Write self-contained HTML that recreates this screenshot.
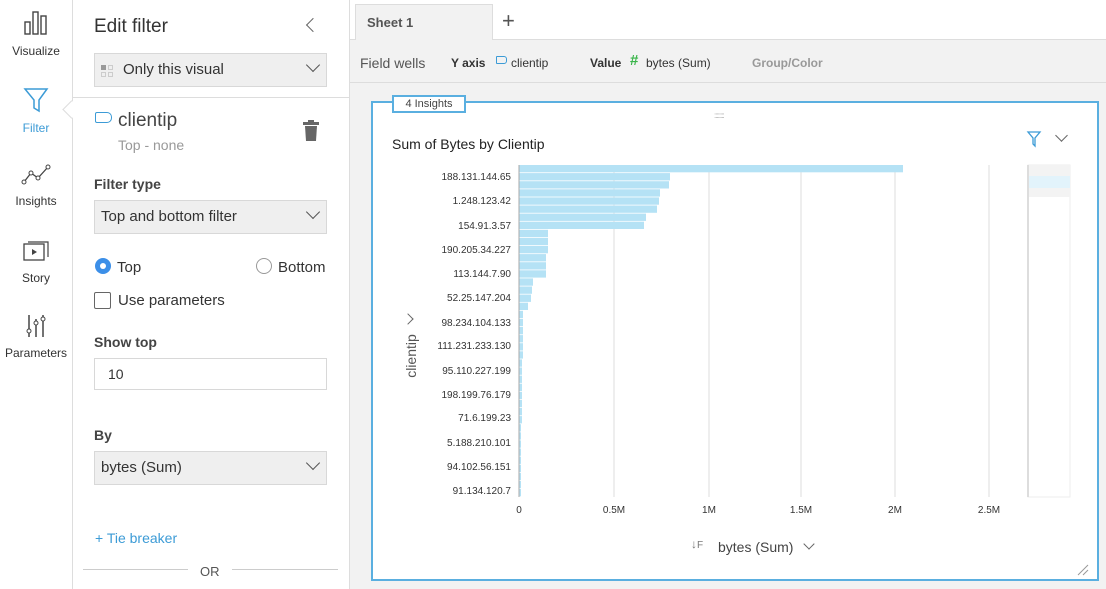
<!DOCTYPE html>
<html><head><meta charset="utf-8"><style>
body{margin:0;width:1106px;height:589px;overflow:hidden;font-family:"Liberation Sans",sans-serif;background:#fff;position:relative;color:#333}
.a{position:absolute}
.sel{position:absolute;left:94px;width:233px;height:34px;background:#efefef;border:1px solid #d8d8d8;box-sizing:border-box;font-size:15px;line-height:32px;padding-left:6px;color:#333}
.chev{position:absolute;right:8px;top:10px;width:9px;height:9px;border-right:1.5px solid #555;border-bottom:1.5px solid #555;transform:rotate(45deg);top:6px}
.nav{position:absolute;left:0;width:72px;text-align:center;font-size:12px;color:#333}
.lbl{position:absolute;right:595px;font-size:10px;color:#333;text-align:right;white-space:nowrap}
.tk{position:absolute;top:505px;font-size:10px;color:#333;transform:translateX(-50%)}
</style></head><body>
<div class="a" style="left:72px;top:0;width:1px;height:589px;background:#ddd"></div>
<div class="nav" style="top:8px"><svg width="26" height="30"><rect x="2" y="14" width="5" height="12" fill="none" stroke="#444" stroke-width="1.4"/><rect x="10" y="4" width="5" height="22" fill="none" stroke="#444" stroke-width="1.4"/><rect x="18" y="8" width="5" height="18" fill="none" stroke="#444" stroke-width="1.4"/></svg><div style="margin-top:3px">Visualize</div></div>
<div class="nav" style="top:86px;color:#3c9bd6"><svg width="26" height="28"><path d="M2 3 H24 L16 14 V25 L11 22 V14 Z" fill="none" stroke="#3c9bd6" stroke-width="1.5"/></svg><div style="margin-top:4px">Filter</div></div>
<div class="nav" style="top:164px"><svg width="30" height="22"><polyline points="3,18 10,9 17,14 27,3" fill="none" stroke="#444" stroke-width="1.3"/><circle cx="3" cy="18" r="2" fill="#fff" stroke="#444"/><circle cx="10" cy="9" r="2" fill="#fff" stroke="#444"/><circle cx="17" cy="14" r="2" fill="#fff" stroke="#444"/><circle cx="27" cy="3" r="2" fill="#fff" stroke="#444"/></svg><div style="margin-top:5px">Insights</div></div>
<div class="nav" style="top:240px"><svg width="28" height="22"><rect x="2" y="4" width="20" height="16" fill="none" stroke="#444" stroke-width="1.3"/><path d="M6 2 H26 V17" fill="none" stroke="#444" stroke-width="1.2"/><path d="M10 9 L15 12 L10 15Z" fill="#444"/></svg><div style="margin-top:6px">Story</div></div>
<div class="nav" style="top:313px"><svg width="26" height="26"><g stroke="#444" stroke-width="1.5"><line x1="6" y1="2" x2="6" y2="24"/><line x1="13" y1="6" x2="13" y2="24"/><line x1="20" y1="2" x2="20" y2="24"/></g><circle cx="6" cy="18" r="2" fill="#fff" stroke="#444"/><circle cx="13" cy="10" r="2" fill="#fff" stroke="#444"/><circle cx="20" cy="6" r="2" fill="#fff" stroke="#444"/></svg><div style="margin-top:4px">Parameters</div></div>
<div class="a" style="left:65px;top:103px;width:12px;height:12px;background:#fff;border-left:1px solid #ddd;border-bottom:1px solid #ddd;transform:rotate(45deg)"></div>
<div class="a" style="left:94px;top:16px;font-size:19px;color:#333">Edit filter</div>
<div class="a" style="left:308px;top:20px;width:9px;height:9px;border-left:1.5px solid #666;border-bottom:1.5px solid #666;transform:rotate(45deg)"></div>
<div class="sel" style="top:53px;padding-left:28px">Only this visual<div class="chev"></div>
<div class="a" style="left:6px;top:11px;width:5px;height:5px;background:#999"></div><div class="a" style="left:13px;top:11px;width:5px;height:5px;border:1px solid #ccc;box-sizing:border-box"></div><div class="a" style="left:6px;top:18px;width:5px;height:5px;border:1px solid #ccc;box-sizing:border-box"></div><div class="a" style="left:13px;top:18px;width:5px;height:5px;border:1px solid #ccc;box-sizing:border-box"></div></div>
<div class="a" style="left:73px;top:97px;width:276px;height:1px;background:#ddd"></div>
<div class="a" style="left:95px;top:112px;width:15px;height:9px;border:1.5px solid #3c9bd6;border-radius:2px 5px 5px 2px"></div>
<div class="a" style="left:118px;top:110px;font-size:19px;color:#444">clientip</div>
<div class="a" style="left:118px;top:137px;font-size:14px;color:#999">Top - none</div>
<svg class="a" style="left:302px;top:120px" width="18" height="22"><rect x="1" y="2" width="16" height="3" fill="#666"/><rect x="6" y="0" width="6" height="3" fill="#666"/><path d="M3 6 H15 L14 21 H4Z" fill="#666"/></svg>
<div class="a" style="left:94px;top:176px;font-size:14px;font-weight:bold;color:#444">Filter type</div>
<div class="sel" style="top:200px">Top and bottom filter<div class="chev"></div></div>
<div class="a" style="left:95px;top:258px;width:16px;height:16px;border-radius:50%;background:#3c8fe8"></div><div class="a" style="left:100px;top:263px;width:6px;height:6px;border-radius:50%;background:#fff"></div>
<div class="a" style="left:117px;top:259px;font-size:15px">Top</div>
<div class="a" style="left:256px;top:258px;width:16px;height:16px;border-radius:50%;border:1px solid #999;box-sizing:border-box"></div>
<div class="a" style="left:278px;top:259px;font-size:15px">Bottom</div>
<div class="a" style="left:94px;top:292px;width:17px;height:17px;border:1px solid #666;border-radius:2px;box-sizing:border-box"></div>
<div class="a" style="left:118px;top:292px;font-size:15px">Use parameters</div>
<div class="a" style="left:94px;top:334px;font-size:14px;font-weight:bold;color:#444">Show top</div>
<div class="a" style="left:94px;top:358px;width:233px;height:32px;border:1px solid #d8d8d8;box-sizing:border-box;font-size:14px;line-height:30px;padding-left:13px">10</div>
<div class="a" style="left:94px;top:427px;font-size:14px;font-weight:bold;color:#444">By</div>
<div class="sel" style="top:451px">bytes (Sum)<div class="chev"></div></div>
<div class="a" style="left:95px;top:530px;font-size:14px;color:#3c9bd6">+ Tie breaker</div>
<div class="a" style="left:83px;top:569px;width:105px;height:1px;background:#ccc"></div>
<div class="a" style="left:232px;top:569px;width:106px;height:1px;background:#ccc"></div>
<div class="a" style="left:200px;top:564px;font-size:13px;color:#555">OR</div>
<div class="a" style="left:349px;top:0;width:1px;height:589px;background:#ddd"></div>
<div class="a" style="left:350px;top:0;width:756px;height:589px;background:#f2f2f2"></div>
<div class="a" style="left:350px;top:0;width:756px;height:39px;background:#fff;border-bottom:1px solid #ddd"></div>
<div class="a" style="left:355px;top:4px;width:138px;height:36px;background:#f2f2f2;border:1px solid #ddd;border-bottom:none;box-sizing:border-box"></div>
<div class="a" style="left:367px;top:15px;font-size:13px;font-weight:bold;color:#555">Sheet 1</div>
<div class="a" style="left:502px;top:8px;font-size:22px;color:#555;font-weight:300">+</div>
<div class="a" style="left:350px;top:82px;width:756px;height:1px;background:#ddd"></div>
<div class="a" style="left:360px;top:55px;font-size:14px;color:#555">Field wells</div>
<div class="a" style="left:451px;top:56px;font-size:12px;font-weight:bold;color:#333">Y axis</div>
<div class="a" style="left:496px;top:56px;width:9px;height:6px;border:1.2px solid #3c9bd6;border-radius:1px 3px 3px 1px"></div>
<div class="a" style="left:511px;top:56px;font-size:12px">clientip</div>
<div class="a" style="left:590px;top:56px;font-size:12px;font-weight:bold;color:#333">Value</div>
<div class="a" style="left:630px;top:52px;font-size:15px;font-weight:bold;color:#3ab54a">#</div>
<div class="a" style="left:646px;top:56px;font-size:12px">bytes (Sum)</div>
<div class="a" style="left:752px;top:56px;font-size:12px;font-weight:bold;color:#999">Group/Color</div>
<div class="a" style="left:371px;top:101px;width:728px;height:480px;background:#fff;border:2px solid #5aafe0;box-sizing:border-box"></div>
<div class="a" style="left:392px;top:95px;width:74px;height:18px;background:#fff;border:2px solid #5aafe0;box-sizing:border-box;font-size:11px;text-align:center;line-height:14px;color:#444">4 Insights</div>
<div class="a" style="left:714px;top:111px;font-size:8px;color:#aaa;letter-spacing:-1px">::::::::</div>
<div class="a" style="left:392px;top:136px;font-size:14px;color:#222">Sum of Bytes by Clientip</div>
<svg class="a" style="left:1026px;top:130px" width="16" height="18"><path d="M2 2 H14 L9 8 V16 L7 14 V8Z" fill="none" stroke="#3c9bd6" stroke-width="1.3"/></svg>
<div class="a" style="left:1057px;top:131px;width:8px;height:8px;border-right:1.5px solid #666;border-bottom:1.5px solid #666;transform:rotate(45deg)"></div>
<svg class="a" style="left:0;top:0" width="1106" height="589">
<g stroke="#ddd" stroke-width="1"><line x1="614" y1="165" x2="614" y2="497"/><line x1="709" y1="165" x2="709" y2="497"/><line x1="801" y1="165" x2="801" y2="497"/><line x1="895" y1="165" x2="895" y2="497"/><line x1="989" y1="165" x2="989" y2="497"/></g>
<g fill="#b5e2f5">
<rect x="519" y="165" width="384" height="7.3"/><rect x="519" y="173.1" width="151" height="7.3"/><rect x="519" y="181.2" width="150" height="7.3"/><rect x="519" y="189.3" width="141" height="7.3"/><rect x="519" y="197.4" width="140" height="7.3"/><rect x="519" y="205.5" width="138" height="7.3"/><rect x="519" y="213.6" width="127" height="7.3"/><rect x="519" y="221.7" width="125" height="7.3"/><rect x="519" y="229.8" width="29" height="7.3"/><rect x="519" y="237.9" width="29" height="7.3"/><rect x="519" y="246" width="29" height="7.3"/><rect x="519" y="254.1" width="27" height="7.3"/><rect x="519" y="262.2" width="27" height="7.3"/><rect x="519" y="270.3" width="27" height="7.3"/><rect x="519" y="278.4" width="14" height="7.3"/><rect x="519" y="286.5" width="13" height="7.3"/><rect x="519" y="294.6" width="12" height="7.3"/><rect x="519" y="302.7" width="9" height="7.3"/><rect x="519" y="310.8" width="4" height="7.3"/><rect x="519" y="318.9" width="4" height="7.3"/><rect x="519" y="327" width="4" height="7.3"/><rect x="519" y="335.1" width="4" height="7.3"/><rect x="519" y="343.2" width="4" height="7.3"/><rect x="519" y="351.3" width="4" height="7.3"/><rect x="519" y="359.4" width="3" height="7.3"/><rect x="519" y="367.5" width="3" height="7.3"/><rect x="519" y="375.6" width="3" height="7.3"/><rect x="519" y="383.7" width="3" height="7.3"/><rect x="519" y="391.8" width="3" height="7.3"/><rect x="519" y="399.9" width="3" height="7.3"/><rect x="519" y="408" width="3" height="7.3"/><rect x="519" y="416.1" width="3" height="7.3"/><rect x="519" y="424.2" width="2" height="7.3"/><rect x="519" y="432.3" width="2" height="7.3"/><rect x="519" y="440.4" width="2" height="7.3"/><rect x="519" y="448.5" width="2" height="7.3"/><rect x="519" y="456.6" width="2" height="7.3"/><rect x="519" y="464.7" width="2" height="7.3"/><rect x="519" y="472.8" width="2" height="7.3"/><rect x="519" y="480.9" width="2" height="7.3"/><rect x="519" y="489" width="2" height="7.3"/>
</g>
<line x1="519" y1="165" x2="519" y2="497" stroke="#aaa"/>
<rect x="1028" y="165" width="42" height="332" fill="#fff" stroke="#eee"/>
<rect x="1028" y="165" width="42" height="32" fill="#f3f3f3"/>
<rect x="1028" y="176" width="42" height="12" fill="#e2f3fb"/>
<line x1="1028" y1="165" x2="1028" y2="497" stroke="#ddd" stroke-width="2"/>
<path d="M1078 575 L1088 565 M1083 575 L1088 570" stroke="#999"/>
</svg>
<div class="lbl" style="top:172px">188.131.144.65</div>
<div class="lbl" style="top:196px">1.248.123.42</div>
<div class="lbl" style="top:221px">154.91.3.57</div>
<div class="lbl" style="top:245px">190.205.34.227</div>
<div class="lbl" style="top:269px">113.144.7.90</div>
<div class="lbl" style="top:293px">52.25.147.204</div>
<div class="lbl" style="top:318px">98.234.104.133</div>
<div class="lbl" style="top:341px">111.231.233.130</div>
<div class="lbl" style="top:366px">95.110.227.199</div>
<div class="lbl" style="top:390px">198.199.76.179</div>
<div class="lbl" style="top:413px">71.6.199.23</div>
<div class="lbl" style="top:438px">5.188.210.101</div>
<div class="lbl" style="top:462px">94.102.56.151</div>
<div class="lbl" style="top:486px">91.134.120.7</div>
<div class="a" style="left:376px;top:348px;transform:rotate(-90deg);font-size:14px;color:#555;width:70px;text-align:center">clientip</div>
<div class="a" style="left:404px;top:315px;width:7px;height:7px;border-right:1.5px solid #666;border-bottom:1.5px solid #666;transform:rotate(-45deg)"></div>
<div class="tk" style="left:519px">0</div><div class="tk" style="left:614px">0.5M</div><div class="tk" style="left:709px">1M</div><div class="tk" style="left:801px">1.5M</div><div class="tk" style="left:895px">2M</div><div class="tk" style="left:989px">2.5M</div>
<div class="a" style="left:691px;top:537px;font-size:12px;color:#777">↓<span style="font-size:10px">F</span></div>
<div class="a" style="left:718px;top:539px;font-size:14px;color:#444">bytes (Sum)</div>
<div class="a" style="left:805px;top:540px;width:7px;height:7px;border-right:1.3px solid #666;border-bottom:1.3px solid #666;transform:rotate(45deg)"></div>
</body></html>
